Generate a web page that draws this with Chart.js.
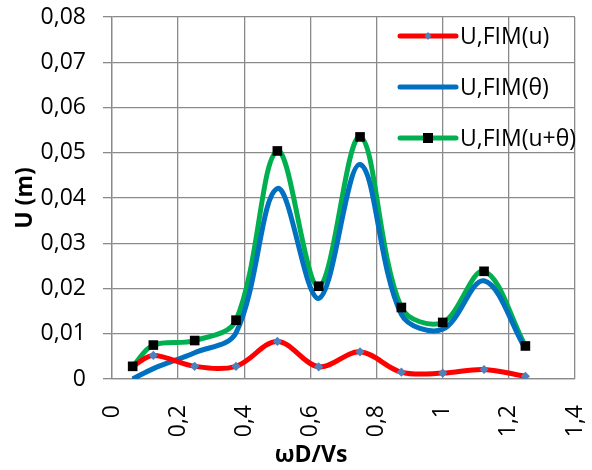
<!DOCTYPE html>
<html>
<head>
<meta charset="utf-8">
<script src="https://cdn.jsdelivr.net/npm/chart.js@4.4.1/dist/chart.umd.min.js"></script>
<style>
  html, body { margin: 0; padding: 0; background: #fff; }
  #wrap { width: 592px; height: 470px; }
</style>
</head>
<body>
<div id="wrap"><canvas id="chart" width="592" height="470"></canvas></div>
<script>
// frequency values (wD/Vs)
const freq = [0.0625, 0.125, 0.25, 0.375, 0.5, 0.625, 0.75, 0.875, 1.0, 1.125, 1.25];

// displacement U (m) for each case
const uFimU = [0.0028, 0.0052, 0.0028, 0.0028, 0.0083, 0.0027, 0.0060, 0.0015, 0.0013, 0.0021, 0.0006];
const uFimTheta = [0.0000, 0.0023, 0.0058, 0.0102, 0.0421, 0.0178, 0.0474, 0.0143, 0.0110, 0.0217, 0.0067];
const uFimBoth = [0.0028, 0.0075, 0.0085, 0.0130, 0.0504, 0.0205, 0.0535, 0.0158, 0.0125, 0.0238, 0.0073];

const seriesNames = ['U,FIM(u)', 'U,FIM(θ)', 'U,FIM(u+θ)'];

// axis ticks
const xTickValues = [0, 0.2, 0.4, 0.6, 0.8, 1, 1.2, 1.4];
const xTickLabels = ['0', '0,2', '0,4', '0,6', '0,8', '1', '1,2', '1,4'];
const yTickValues = [0, 0.01, 0.02, 0.03, 0.04, 0.05, 0.06, 0.07, 0.08];
const yTickLabels = ['0', '0,01', '0,02', '0,03', '0,04', '0,05', '0,06', '0,07', '0,08'];

const FONT = "'Open Sans', 'Liberation Sans', sans-serif";
const FONT_SIZE = 23;
const gridGray = '#8a8a8a';

function points(ys) {
  return freq.map((x, i) => ({ x: x, y: ys[i] }));
}

// legend drawn inside the plot, top right (like the Excel one),
// plus the x axis title which Excel placed a bit left of centre
const insideLegend = {
  id: 'insideLegend',
  afterDraw(chart) {
    const ctx = chart.ctx;
    const area = chart.chartArea;
    const items = [
      { name: seriesNames[0], color: '#ff0000', marker: 'diamond' },
      { name: seriesNames[1], color: '#0070c0', marker: null },
      { name: seriesNames[2], color: '#00b050', marker: 'square' }
    ];
    const lx0 = area.right - 175;
    const lx1 = area.right - 119;
    let y = area.top + 19;
    ctx.save();
    items.forEach(it => {
      ctx.strokeStyle = it.color;
      ctx.lineWidth = 5;
      ctx.lineCap = 'round';
      ctx.beginPath();
      ctx.moveTo(lx0, y);
      ctx.lineTo(lx1, y);
      ctx.stroke();
      const mx = (lx0 + lx1) / 2;
      if (it.marker === 'diamond') {
        ctx.fillStyle = '#4f81bd';
        ctx.beginPath();
        ctx.moveTo(mx, y - 4);
        ctx.lineTo(mx + 3.5, y);
        ctx.lineTo(mx, y + 4);
        ctx.lineTo(mx - 3.5, y);
        ctx.closePath();
        ctx.fill();
      } else if (it.marker === 'square') {
        ctx.fillStyle = '#000';
        ctx.fillRect(mx - 5, y - 5, 10, 10);
      }
      ctx.fillStyle = '#000';
      ctx.font = FONT_SIZE + 'px ' + FONT;
      ctx.textAlign = 'left';
      ctx.textBaseline = 'middle';
      ctx.fillText(it.name, lx1 + 4, y + 1);
      y += 51;
    });

    // x axis title
    ctx.font = 'bold ' + FONT_SIZE + 'px ' + FONT;
    ctx.textAlign = 'center';
    ctx.textBaseline = 'middle';
    ctx.fillText('ωD/Vs', area.left + (area.right - area.left) * 0.43, chart.height - 15);
    ctx.restore();
  }
};

const ctx = document.getElementById('chart').getContext('2d');
const chart = new Chart(ctx, {
  type: 'scatter',
  data: {
    datasets: [
      {
        // black squares for the sum, kept on top
        label: 'markers',
        data: points(uFimBoth),
        showLine: false,
        pointStyle: 'rect',
        pointRadius: 6.8,
        pointBackgroundColor: '#000',
        pointBorderWidth: 0,
        order: 0
      },
      {
        label: seriesNames[0],
        data: points(uFimU),
        showLine: true,
        borderColor: '#ff0000',
        borderWidth: 5,
        tension: 0.35,
        pointStyle: 'rectRot',
        pointRadius: 4.6,
        pointBackgroundColor: '#4f81bd',
        pointBorderWidth: 0,
        order: 1
      },
      {
        label: seriesNames[1],
        data: points(uFimTheta),
        showLine: true,
        borderColor: '#0070c0',
        borderWidth: 5,
        tension: 0.35,
        pointRadius: 0,
        order: 2
      },
      {
        label: seriesNames[2],
        data: points(uFimBoth),
        showLine: true,
        borderColor: '#00b050',
        borderWidth: 5,
        tension: 0.35,
        pointRadius: 0,
        order: 3
      }
    ]
  },
  options: {
    responsive: false,
    animation: false,
    layout: { padding: { left: 0, right: 17, top: 17, bottom: 0 } },
    plugins: {
      legend: { display: false },
      tooltip: { enabled: false }
    },
    scales: {
      x: {
        type: 'linear',
        min: 0,
        max: 1.4,
        afterBuildTicks: s => { s.ticks = xTickValues.map(v => ({ value: v })); },
        afterFit: s => { s.height = 91; s.paddingLeft = 0; s.paddingRight = 0; },
        ticks: {
          callback: (v, i) => xTickLabels[i],
          minRotation: 90,
          maxRotation: 90,
          padding: 26,
          color: '#000',
          font: { family: FONT, size: FONT_SIZE }
        },
        grid: { color: gridGray, lineWidth: 1.3, drawTicks: false },
        border: { color: gridGray, width: 1.3 },
        title: { display: false }
      },
      y: {
        type: 'linear',
        min: 0,
        max: 0.08,
        afterBuildTicks: s => { s.ticks = yTickValues.map(v => ({ value: v })); },
        afterFit: s => { s.width = 112; s.paddingTop = 0; s.paddingBottom = 0; },
        ticks: {
          callback: (v, i) => yTickLabels[i],
          padding: 17,
          color: '#000',
          font: { family: FONT, size: FONT_SIZE }
        },
        grid: { color: gridGray, lineWidth: 1.3, tickLength: 9 },
        border: { color: gridGray, width: 1.3 },
        title: {
          display: true,
          text: 'U (m)',
          color: '#000',
          font: { family: FONT, size: FONT_SIZE, weight: 'bold' },
          padding: { top: 12, bottom: 0 }
        }
      }
    }
  },
  plugins: [insideLegend]
});
</script>
</body>
</html>
